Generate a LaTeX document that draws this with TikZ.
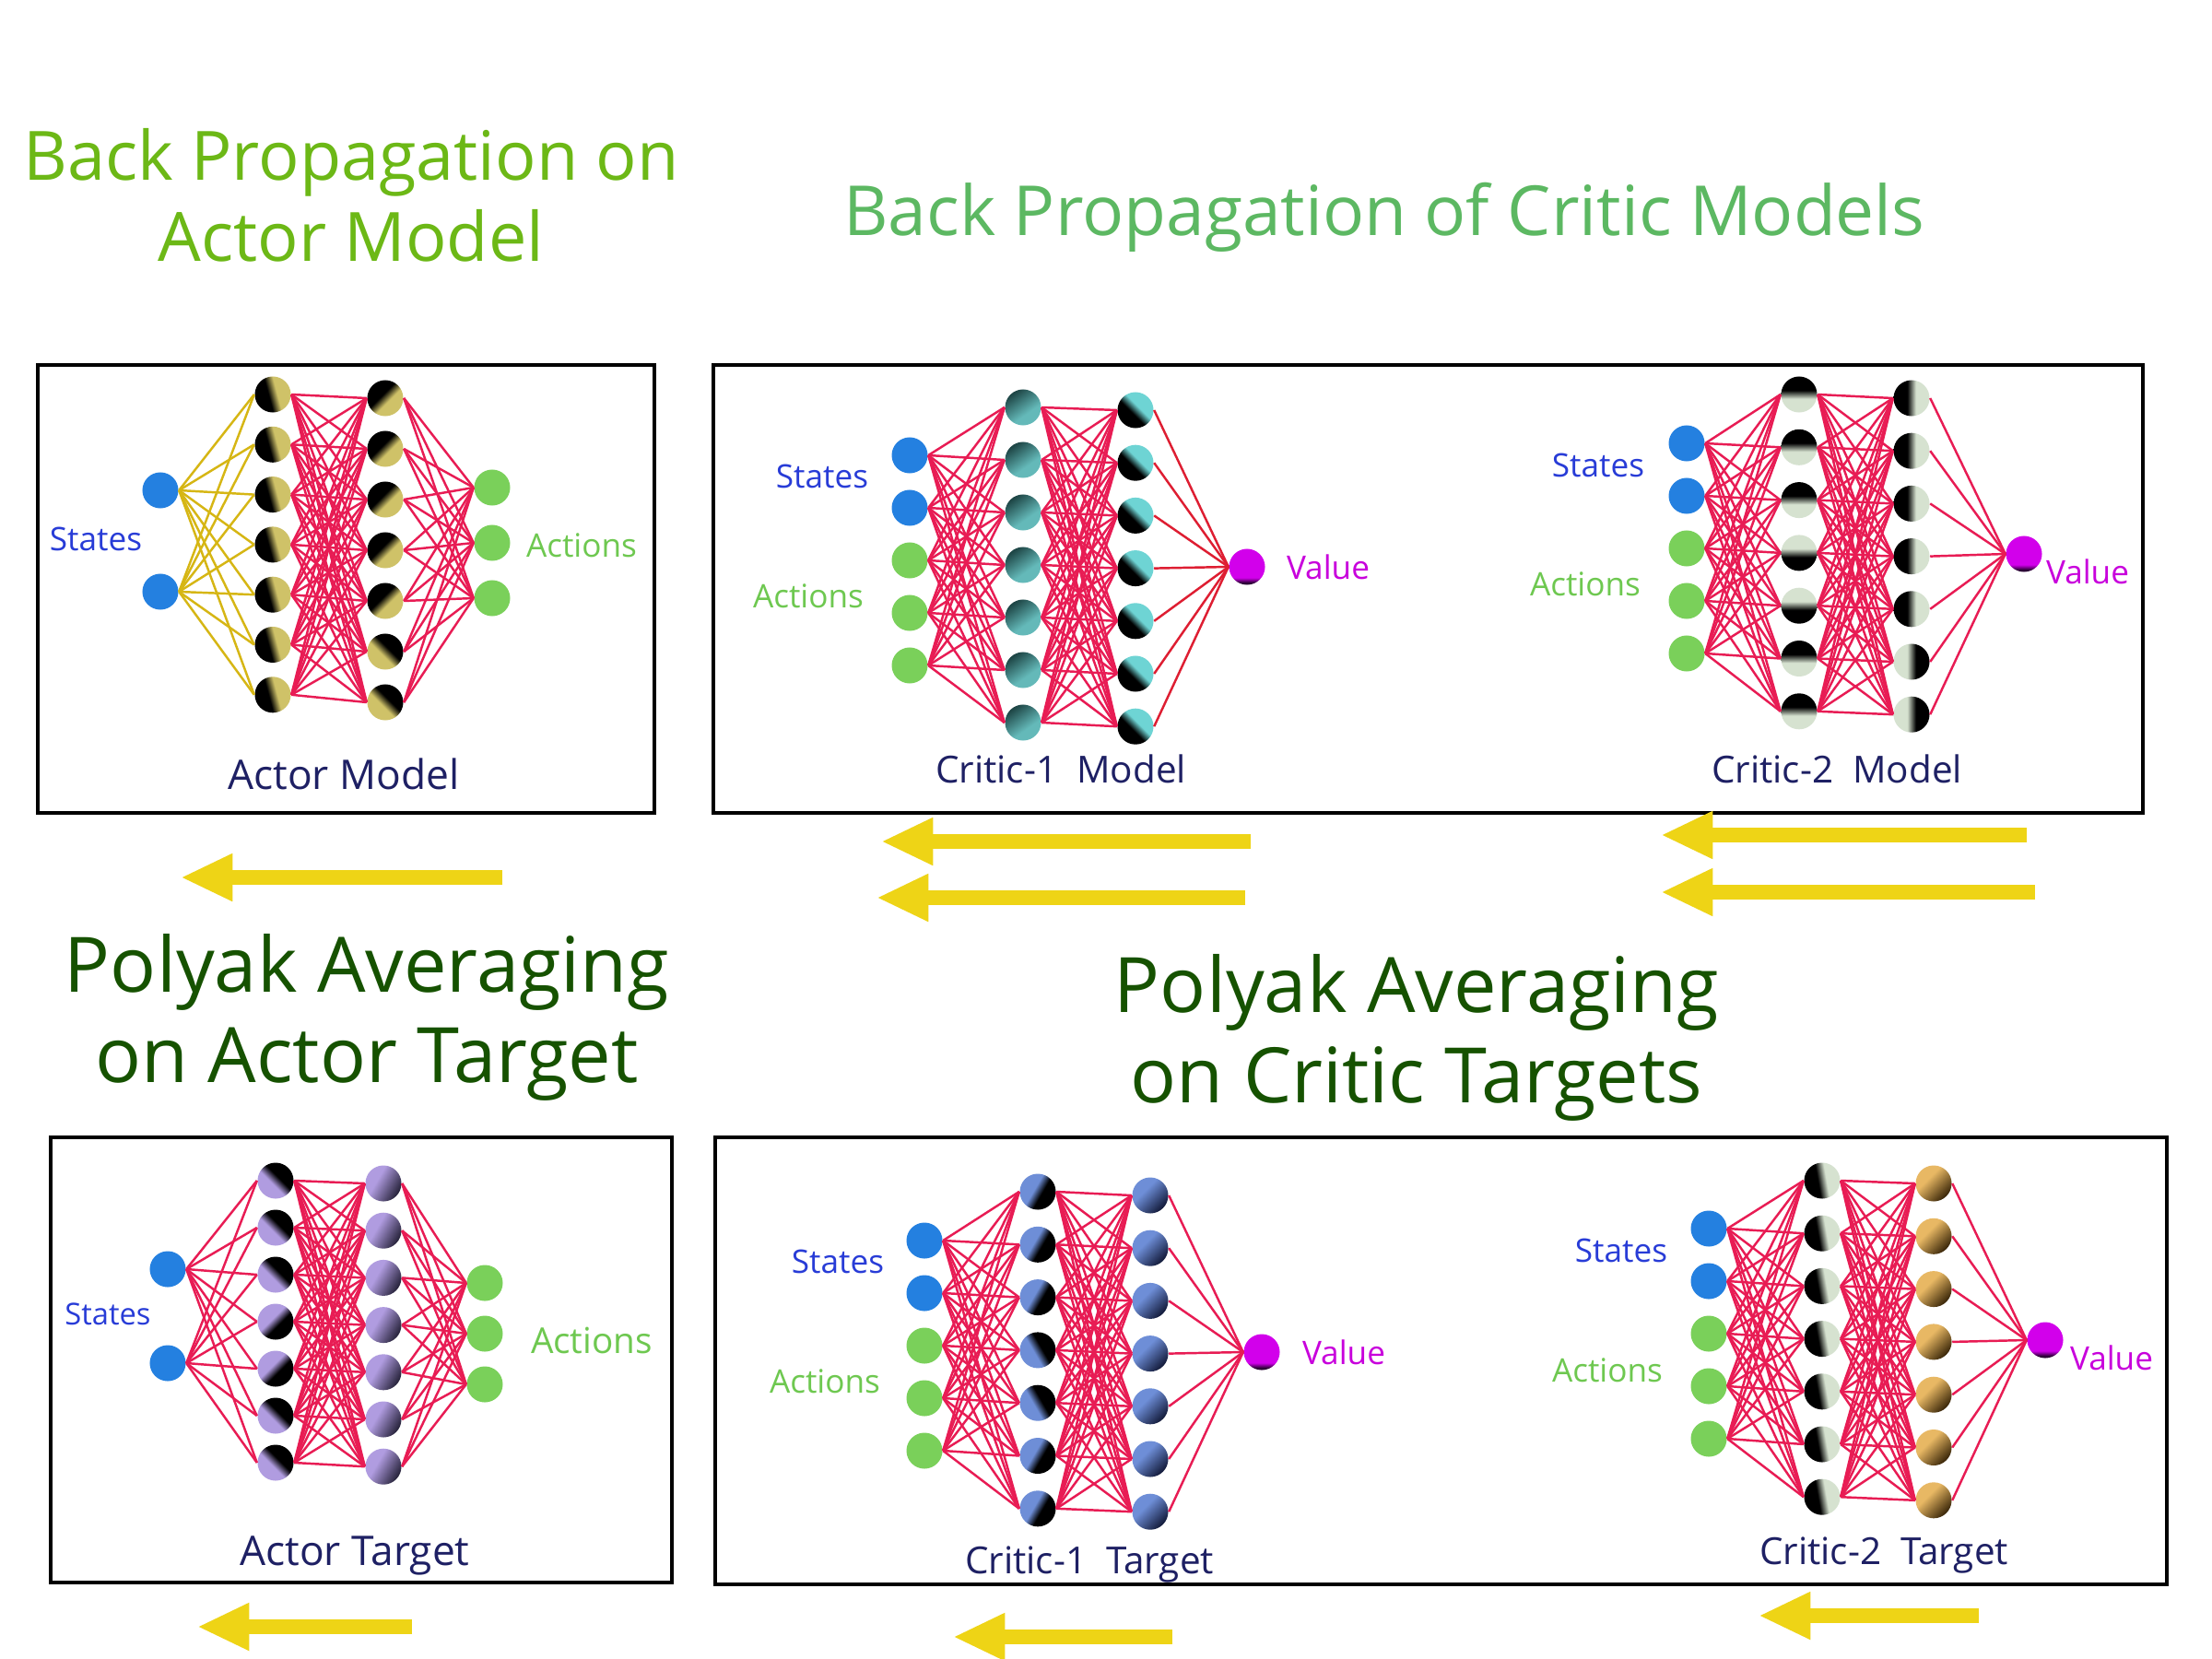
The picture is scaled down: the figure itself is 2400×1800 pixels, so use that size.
\documentclass[tikz,border=0pt]{standalone}
\usepackage{fontspec}
\setmainfont{Open Sans}
\usetikzlibrary{arrows.meta}

\definecolor{statecol}{RGB}{36,128,224}
\definecolor{actcol}{RGB}{122,208,90}
\definecolor{valcol}{RGB}{210,0,235}
\definecolor{valdark}{RGB}{40,0,50}
\definecolor{wirecol}{RGB}{232,28,84}
\definecolor{vwirecol}{RGB}{222,30,50}
\definecolor{ywirecol}{RGB}{214,182,20}
\definecolor{arrowcol}{RGB}{238,212,22}
\definecolor{khaki}{RGB}{207,194,104}
\definecolor{tealhi}{RGB}{100,185,185}
\definecolor{teallo}{RGB}{30,70,70}
\definecolor{cyanhi}{RGB}{110,212,212}
\definecolor{palegreen}{RGB}{214,226,208}
\definecolor{lavender}{RGB}{176,156,224}
\definecolor{lavdark}{RGB}{40,36,60}
\definecolor{cornflower}{RGB}{110,142,215}
\definecolor{navydark}{RGB}{20,28,60}
\definecolor{tanhi}{RGB}{232,184,100}
\definecolor{tandark}{RGB}{60,40,10}
\definecolor{statetxt}{RGB}{40,60,215}
\definecolor{acttxt}{RGB}{110,200,80}
\definecolor{valtxt}{RGB}{200,0,220}
\definecolor{nametxt}{RGB}{30,32,100}
\definecolor{titlelight}{RGB}{108,184,22}
\definecolor{titlemid}{RGB}{92,184,98}
\definecolor{titledark}{RGB}{22,82,0}

\colorlet{hcol}{khaki}
\colorlet{hdark}{black}
\pgfdeclarehorizontalshading[hcol]{darkhalf}{100bp}{color(0bp)=(black); color(44bp)=(black); color(56bp)=(hcol); color(100bp)=(hcol)}
\pgfdeclarehorizontalshading[hcol,hdark]{softhalf}{100bp}{color(0bp)=(hcol); color(40bp)=(hcol); color(74bp)=(hdark); color(100bp)=(hdark)}
\pgfdeclareverticalshading{valshade}{100bp}{color(0bp)=(valdark); color(28bp)=(valdark); color(35bp)=(valcol); color(100bp)=(valcol)}

\tikzset{
  neuron/.style={circle, minimum size=3.9mm, inner sep=0pt},
  statein/.style={neuron, fill=statecol},
  actin/.style={neuron, fill=actcol},
  hsharp/.style={neuron, shade, shading=darkhalf, /utils/exec={\colorlet{hcol}{#1}}},
  hsoft/.style 2 args={neuron, shade, shading=softhalf, /utils/exec={\colorlet{hcol}{#1}\colorlet{hdark}{#2}}},
  valnode/.style={neuron, shade, shading=valshade},
  wire/.style={draw=wirecol, line width=0.7pt},
  ywire/.style={draw=ywirecol, line width=0.7pt},
  vwire/.style={draw=vwirecol, line width=0.7pt},
  netbox/.style={draw=black, line width=1.2pt},
  yarrow/.style={draw=arrowcol, line width=4.6pt, -{Triangle[length=16pt,width=13.6pt]}},
  statelbl/.style={text=statetxt, font=\fontsize{10}{12}\selectfont, text depth=0pt},
  actlbl/.style={text=acttxt, font=\fontsize{10}{12}\selectfont, text depth=0pt},
  vallbl/.style={text=valtxt, font=\fontsize{10}{12}\selectfont, text depth=0pt},
  namelbl/.style={text=nametxt, font=\fontsize{12.6}{15}\selectfont, text depth=0pt},
  critlbl/.style={namelbl, font=\fontsize{11.5}{14}\selectfont},
  bptitle/.style={align=center, font=\fontsize{21}{25}\selectfont},
  patitle/.style={align=center, text=titledark, font=\fontsize{23.6}{28}\selectfont}
}

\begin{document}
\begin{tikzpicture}[x=0.01cm, y=-0.01cm]
\useasboundingbox[fill=white] (0,0) rectangle (2400,1800);

\node[bptitle, text=titlelight] (t-am) at (381,212) {Back Propagation on\\Actor Model};
\node[bptitle, text=titlemid, font=\fontsize{21.3}{25}\selectfont] (t-cm) at (1502,236) {Back Propagation of Critic Models};
\node[patitle] (t-at) at (398,1104) {Polyak Averaging\\on Actor Target};
\node[patitle] (t-ct) at (1537,1126) {Polyak Averaging\\on Critic Targets};

\draw[netbox] (41,396) rectangle (710,882);
\draw[netbox] (774,396) rectangle (2325,882);
\draw[netbox] (55,1234) rectangle (729,1717);
\draw[netbox] (776,1234) rectangle (2351,1719);

\foreach \n/\xa/\xb/\y in {am/545/196/952, ca/1357/956/913, cb/1351/951/974, cc/2199/1802/906, cd/2208/1802/968,
  ta/447/214/1765, tb/1272/1034/1776, tc/2147/1908/1753}{
  \coordinate (ar-\n-s) at (\xa,\y);
  \coordinate (ar-\n-e) at (\xb,\y);
  \draw[yarrow] (ar-\n-s) -- (ar-\n-e);
}

% Actor Model
\foreach \k/\y in {1/532,2/642} \node[statein] (am-i\k) at (174,\y) {};
\foreach \k in {1,...,7} \node[hsharp=khaki, shading angle=15] (am-a\k) at (296,{428+54.3*(\k-1)}) {};
\foreach \k/\a in {1/-45,2/-45,3/-45,4/-45,5/-45,6/-135,7/-135} \node[hsharp=khaki, shading angle=\a] (am-b\k) at (418,{432+55*(\k-1)}) {};
\foreach \k in {1,2,3} \node[actin] (am-o\k) at (534,{529+60*(\k-1)}) {};
\foreach \i in {1,2} \foreach \j in {1,...,7} \draw[ywire] (am-i\i.east) -- (am-a\j.west);
\foreach \i in {1,...,7} \foreach \j in {1,...,7} \draw[wire] (am-a\i.east) -- (am-b\j.west);
\foreach \i in {1,...,7} \foreach \j in {1,2,3} \draw[wire] (am-b\i.east) -- (am-o\j.west);
\node[statelbl] (am-st) at (104,585) {States};
\node[actlbl] (am-ac) at (631,592) {Actions};
\node[namelbl] (am-nm) at (373,840) {Actor Model};

% Critic-1 Model
\foreach \k in {1,2} \node[statein] (c1m-i\k) at (987,{494+57*(\k-1)}) {};
\foreach \k in {3,4,5} \node[actin] (c1m-i\k) at (987,{494+57*(\k-1)}) {};
\foreach \k in {1,...,7} \node[hsoft={tealhi}{teallo}, shading angle=125] (c1m-a\k) at (1110,{442+57*(\k-1)}) {};
\foreach \k in {1,...,7} \node[hsharp=cyanhi, shading angle=45] (c1m-b\k) at (1232,{445+57.2*(\k-1)}) {};
\node[valnode] (c1m-v) at (1353,615) {};
\foreach \i in {1,...,5} \foreach \j in {1,...,7} \draw[wire] (c1m-i\i.east) -- (c1m-a\j.west);
\foreach \i in {1,...,7} \foreach \j in {1,...,7} \draw[wire] (c1m-a\i.east) -- (c1m-b\j.west);
\foreach \i in {1,...,7} \draw[vwire] (c1m-b\i.east) -- (c1m-v.west);
\node[statelbl] (c1m-st) at (892,517) {States};
\node[actlbl] (c1m-ac) at (877,647) {Actions};
\node[vallbl] (c1m-vl) at (1441,615) {Value};
\node[critlbl] (c1m-nm) at (1151,834) {Critic-1~~Model};

% Critic-2 Model
\foreach \k in {1,2} \node[statein] (c2m-i\k) at (1830,{481+57*(\k-1)}) {};
\foreach \k in {3,4,5} \node[actin] (c2m-i\k) at (1830,{481+57*(\k-1)}) {};
\foreach \k/\a in {1/-90,2/-90,3/-90,4/90,5/90,6/-90,7/-90} \node[hsharp=palegreen, shading angle=\a] (c2m-a\k) at (1952,{428+57.3*(\k-1)}) {};
\foreach \k/\a in {1/0,2/0,3/0,4/0,5/0,6/180,7/180} \node[hsharp=palegreen, shading angle=\a] (c2m-b\k) at (2074,{432+57.2*(\k-1)}) {};
\node[valnode] (c2m-v) at (2196,601) {};
\foreach \i in {1,...,5} \foreach \j in {1,...,7} \draw[wire] (c2m-i\i.east) -- (c2m-a\j.west);
\foreach \i in {1,...,7} \foreach \j in {1,...,7} \draw[wire] (c2m-a\i.east) -- (c2m-b\j.west);
\foreach \i in {1,...,7} \draw[wire] (c2m-b\i.east) -- (c2m-v.west);
\node[statelbl] (c2m-st) at (1734,505) {States};
\node[actlbl] (c2m-ac) at (1720,634) {Actions};
\node[vallbl] (c2m-vl) at (2265,620) {Value};
\node[critlbl] (c2m-nm) at (1993,834) {Critic-2~~Model};

% Actor Target
\foreach \k/\y in {1/1377,2/1479} \node[statein] (at-i\k) at (182,\y) {};
\foreach \k/\a in {1/-135,2/-135,3/-135,4/135,5/135,6/-135,7/-135} \node[hsharp=lavender, shading angle=\a] (at-a\k) at (299,{1281+51*(\k-1)}) {};
\foreach \k in {1,...,7} \node[hsoft={lavender}{lavdark}, shading angle=-30] (at-b\k) at (416,{1284+51.2*(\k-1)}) {};
\foreach \k in {1,2,3} \node[actin] (at-o\k) at (526,{1392+55*(\k-1)}) {};
\foreach \i in {1,2} \foreach \j in {1,...,7} \draw[wire] (at-i\i.east) -- (at-a\j.west);
\foreach \i in {1,...,7} \foreach \j in {1,...,7} \draw[wire] (at-a\i.east) -- (at-b\j.west);
\foreach \i in {1,...,7} \foreach \j in {1,2,3} \draw[wire] (at-b\i.east) -- (at-o\j.west);
\node[statelbl, font=\fontsize{9.3}{11}\selectfont] (at-st) at (117,1426) {States};
\node[actlbl, font=\fontsize{11}{13}\selectfont] (at-ac) at (642,1454) {Actions};
\node[namelbl] (at-nm) at (385,1683) {Actor Target};

% Critic-1 Target
\foreach \k in {1,2} \node[statein] (c1t-i\k) at (1003,{1346+57*(\k-1)}) {};
\foreach \k in {3,4,5} \node[actin] (c1t-i\k) at (1003,{1346+57*(\k-1)}) {};
\foreach \k/\a in {1/150,2/150,3/150,4/210,5/210,6/150,7/150} \node[hsharp=cornflower, shading angle=\a] (c1t-a\k) at (1126,{1293+57.3*(\k-1)}) {};
\foreach \k in {1,...,7} \node[hsoft={cornflower}{navydark}, shading angle=-45] (c1t-b\k) at (1248,{1297+57.2*(\k-1)}) {};
\node[valnode] (c1t-v) at (1369,1467) {};
\foreach \i in {1,...,5} \foreach \j in {1,...,7} \draw[wire] (c1t-i\i.east) -- (c1t-a\j.west);
\foreach \i in {1,...,7} \foreach \j in {1,...,7} \draw[wire] (c1t-a\i.east) -- (c1t-b\j.west);
\foreach \i in {1,...,7} \draw[wire] (c1t-b\i.east) -- (c1t-v.west);
\node[statelbl] (c1t-st) at (909,1369) {States};
\node[actlbl] (c1t-ac) at (895,1499) {Actions};
\node[vallbl] (c1t-vl) at (1458,1467) {Value};
\node[critlbl] (c1t-nm) at (1182,1693) {Critic-1~~Target};

% Critic-2 Target
\foreach \k in {1,2} \node[statein] (c2t-i\k) at (1854,{1333+57*(\k-1)}) {};
\foreach \k in {3,4,5} \node[actin] (c2t-i\k) at (1854,{1333+57*(\k-1)}) {};
\foreach \k in {1,...,7} \node[hsharp=palegreen, shading angle=10] (c2t-a\k) at (1977,{1281+57.2*(\k-1)}) {};
\foreach \k in {1,...,7} \node[hsoft={tanhi}{tandark}, shading angle=-45] (c2t-b\k) at (2098,{1284+57.3*(\k-1)}) {};
\node[valnode] (c2t-v) at (2219,1454) {};
\foreach \i in {1,...,5} \foreach \j in {1,...,7} \draw[wire] (c2t-i\i.east) -- (c2t-a\j.west);
\foreach \i in {1,...,7} \foreach \j in {1,...,7} \draw[wire] (c2t-a\i.east) -- (c2t-b\j.west);
\foreach \i in {1,...,7} \draw[wire] (c2t-b\i.east) -- (c2t-v.west);
\node[statelbl] (c2t-st) at (1759,1357) {States};
\node[actlbl] (c2t-ac) at (1744,1487) {Actions};
\node[vallbl] (c2t-vl) at (2291,1473) {Value};
\node[critlbl] (c2t-nm) at (2044,1683) {Critic-2~~Target};
\end{tikzpicture}
\end{document}
